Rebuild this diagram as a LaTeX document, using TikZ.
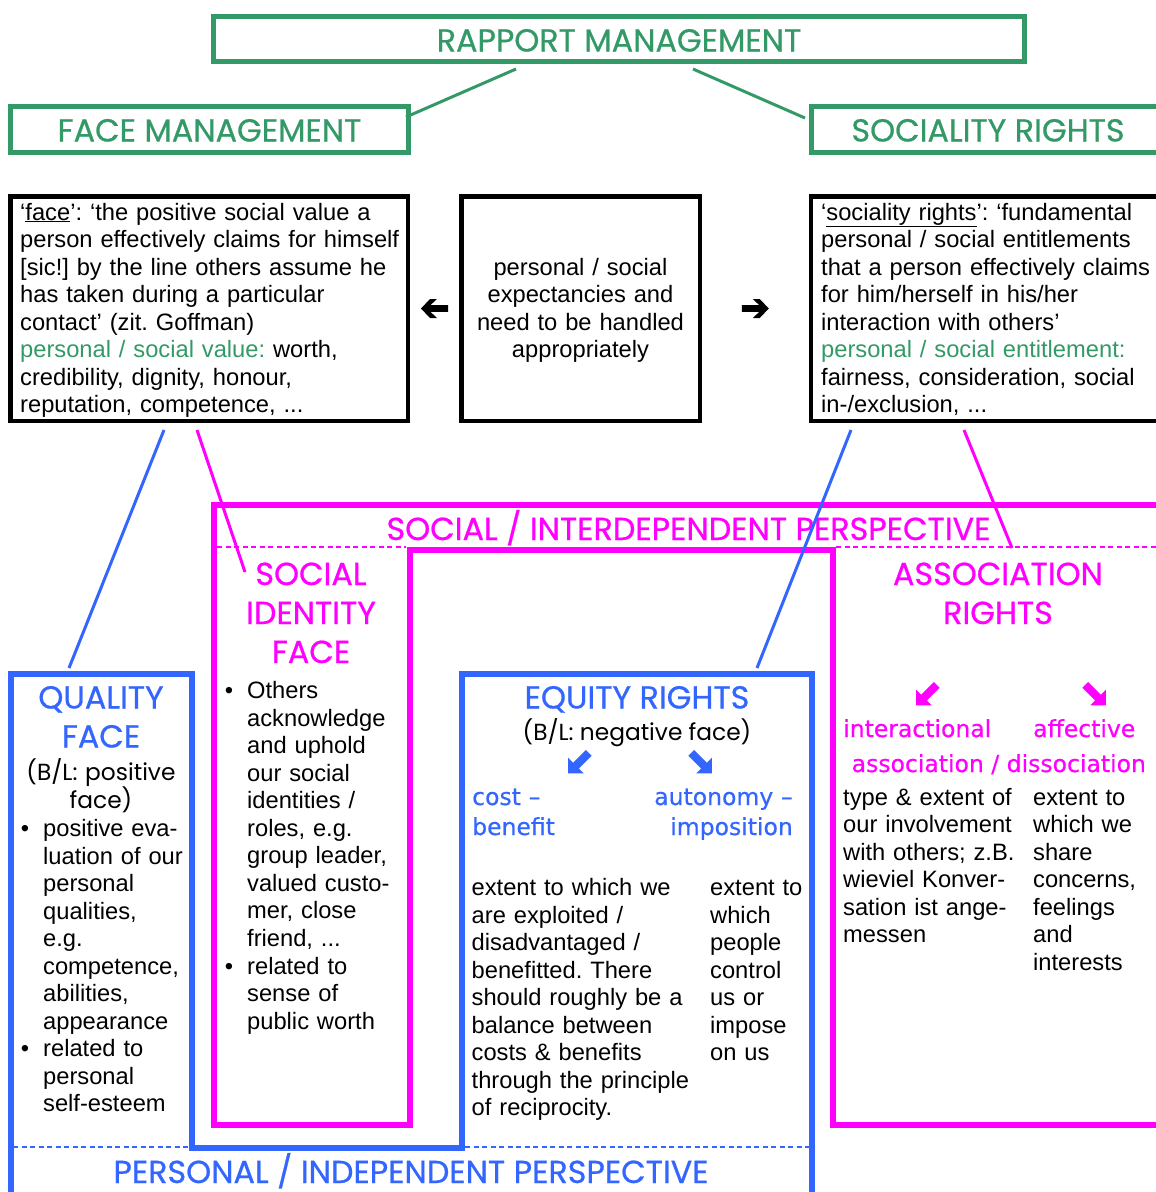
\documentclass[tikz,border=0pt]{standalone}
\usepackage{fontspec}
\setmainfont{Liberation Sans}
\newfontfamily\gothic{Poppins}[FakeBold=0.7]
\newfontfamily\gothiclight{Poppins}
\newfontfamily\verd{DejaVu Sans}[FakeBold=0.5]
\usetikzlibrary{calc}

\definecolor{rmgreen}{RGB}{51,153,102}
\definecolor{pmag}{RGB}{255,0,255}
\definecolor{pblue}{RGB}{51,102,255}

\newcommand\bodyfont{\fontsize{23.7}{27.5}\selectfont}
\newcommand\headfont{\gothic\fontsize{31.8}{39}\selectfont}
\newcommand\subfont{\gothiclight\fontsize{23.3}{28.5}\selectfont}
\newcommand\keyfont{\verd\fontsize{23.5}{30}\selectfont}

\tikzset{
  gbox/.style={draw=rmgreen, line width=5pt, inner sep=0pt},
  kbox/.style={draw=black, line width=4.5pt, inner sep=0pt},
  body/.style={font=\bodyfont, inner sep=0pt, align=left, text width=#1, anchor=base west},
  body/.default=420pt,
  ctext/.style={inner sep=0pt, align=center, text width=#1, anchor=base},
  ctext/.default=300pt,
  bul/.style={font=\bodyfont, inner sep=0pt, anchor=base},
  label/.style={inner sep=0pt, anchor=base},
  link/.style={line width=3pt},
  sepline/.style={line width=2pt, dash pattern=on 5pt off 3.5pt},
  frameline/.style={line width=6pt, line join=miter},
  leftarrow/.pic={\fill (-13.5,0) -- (-4.5,-9.5) -- (2.5,-9.5) -- (-4,-3.4) -- (13.5,-3.4)
                      -- (13.5,3.4) -- (-4,3.4) -- (2.5,9.5) -- (-4.5,9.5) -- cycle;},
  swarrow/.pic={\fill[scale=1.08] (-11,10.5) -- (-11,-4) -- (-6.3,0.7) -- (5.5,-11.1) -- (10.8,-5.8)
                      -- (-1,6) -- (3.5,10.5) -- cycle;},
}

\begin{document}
\frenchspacing
\begin{tikzpicture}[x=1pt,y=-1pt]
\useasboundingbox (0,0) rectangle (1156,1192);
\clip (0,0) rectangle (1156,1192);

% ---------- top level: rapport management ----------
\node[gbox, minimum width=811pt, minimum height=45pt] (rm) at (619,39) {};
\node[gbox, minimum width=398pt, minimum height=46pt] (fm) at (209.5,129.5) {};
\node[gbox, minimum width=360pt, minimum height=46pt] (sr) at (991.5,129.5) {};
\node[label, font=\headfont, text=rmgreen] (rmt) at (619,51.5) {RAPPORT MANAGEMENT};
\node[label, font=\headfont, text=rmgreen] (fmt) at (209.5,141.5) {FACE MANAGEMENT};
\node[label, font=\headfont, text=rmgreen] (srt) at (988,141.5) {SOCIALITY RIGHTS};

\coordinate (rm-l) at (516,69);
\coordinate (rm-r) at (693,69);
\coordinate (fm-in) at (406,117);
\coordinate (sr-in) at (805,118);
\draw[rmgreen, link] (rm-l) -- (fm-in);
\draw[rmgreen, link] (rm-r) -- (sr-in);

% ---------- definitions ----------
\node[kbox, minimum width=397.5pt, minimum height=224.5pt] (lbox) at (209,308.5) {};
\node[kbox, minimum width=238.5pt, minimum height=224.5pt] (mbox) at (580.5,308.5) {};
\node[kbox, minimum width=360pt, minimum height=224.5pt] (rbox) at (990.75,308.5) {};

\node[body] (facedef) at (20,220) {%
‘\underline{face}’: ‘the positive social value a\\
person effectively claims for himself\\
{[}sic!{]} by the line others assume he\\
has taken during a particular\\
contact’ (zit. Goffman)\\
\textcolor{rmgreen}{personal / social value:} worth,\\
credibility, dignity, honour,\\
reputation, competence, ...};

\node[ctext=240pt, font=\bodyfont] (expect) at (580.5,275) {%
personal / social\\
expectancies and\\
need to be handled\\
appropriately};

\node[body] (srdef) at (821,220) {%
‘\underline{sociality rights}’: ‘fundamental\\
personal / social entitlements\\
that a person effectively claims\\
for him/herself in his/her\\
interaction with others’\\
\textcolor{rmgreen}{personal / social entitlement:}\\
fairness, consideration, social\\
in-/exclusion, ...};

\pic[color=black] at ($(lbox.east)!0.5!(mbox.west)$) {leftarrow};
\pic[color=black, xscale=-1] at ($(mbox.east)!0.5!(rbox.west)$) {leftarrow};

% ---------- social / interdependent perspective (magenta) ----------
\draw[pmag, frameline] (1170,505) -- (214,505) -- (214,1124.5) -- (409.5,1124.5)
  -- (409.5,550) -- (833,550) -- (833,1124.5) -- (1170,1124.5);
\draw[pmag, sepline] (217,547) -- (406,547);
\draw[pmag, sepline] (836,547) -- (1160,547);
\node[label, font=\headfont, text=pmag] (sip) at (688.5,540) {SOCIAL / INTERDEPENDENT PERSPECTIVE};

\node[ctext=190pt, font=\headfont, text=pmag] (sif) at (311,585) {SOCIAL\\IDENTITY\\FACE};
\node[bul] (sifb1) at (229,698.5) {•};
\node[body=170pt] (sif1) at (247,698.5) {%
Others\\acknowledge\\and uphold\\our social\\identities /\\roles, e.g.\\group leader,\\valued custo-\\mer, close\\friend, ...};
\node[bul] (sifb2) at (229,974) {•};
\node[body=170pt] (sif2) at (247,974) {related to\\sense of\\public worth};

\node[ctext=310pt, font=\headfont, text=pmag] (assoc) at (998,585) {ASSOCIATION\\RIGHTS};
\pic[color=pmag] at (928,694) {swarrow};
\pic[color=pmag, xscale=-1] at (1094,694) {swarrow};
\node[label, anchor=base west, font=\keyfont, text=pmag] (inter) at (843,737) {interactional};
\node[label, anchor=base west, font=\keyfont, text=pmag] (affect) at (1033,737) {affective};
\node[label, anchor=base west, font=\keyfont, text=pmag] (assdis) at (851.5,772) {association / dissociation};
\node[body=185pt] (interdef) at (843,805) {%
type \& extent of\\our involvement\\with others; z.B.\\wieviel Konver-\\sation ist ange-\\messen};
\node[body=120pt] (affdef) at (1033,805) {%
extent to\\which we\\share\\concerns,\\feelings\\and\\interests};

% ---------- personal / independent perspective (blue) ----------
\draw[pblue, frameline] (10.5,1200) -- (10.5,674) -- (192,674) -- (192,1148)
  -- (462,1148) -- (462,674) -- (812,674) -- (812,1200);
\draw[pblue, sepline] (13,1147) -- (189,1147);
\draw[pblue, sepline] (465,1147) -- (809,1147);
\node[label, font=\headfont, text=pblue] (pip) at (411,1183) {PERSONAL / INDEPENDENT PERSPECTIVE};

\node[ctext=175pt, font=\headfont, text=pblue] (qf) at (101,708.5) {QUALITY\\FACE};
\node[ctext=175pt, font=\subfont] (qfbl) at (101,780) {(B/L: positive\\face)};
\node[bul] (qfb1) at (25,836.5) {•};
\node[body=150pt] (qf1) at (43,836.5) {%
positive eva-\\luation of our\\personal\\qualities,\\e.g.\\competence,\\abilities,\\appearance};
\node[bul] (qfb2) at (25,1056.5) {•};
\node[body=150pt] (qf2) at (43,1056.5) {related to\\personal\\self-esteem};

\node[label, font=\headfont, text=pblue] (eq) at (637,708.5) {EQUITY RIGHTS};
\node[label, font=\subfont] (eqbl) at (637,740.5) {(B/L: negative face)};
\pic[color=pblue] at (580,762) {swarrow};
\pic[color=pblue, xscale=-1] at (700,762) {swarrow};
\node[inner sep=0pt, anchor=base west, font=\keyfont, text=pblue, align=left, text width=160pt] (cb) at (472,805) {cost –\\benefit};
\node[inner sep=0pt, anchor=base east, font=\keyfont, text=pblue, align=right, text width=160pt] (ai) at (793,805) {autonomy –\\imposition};
\node[body=235pt] (cbdef) at (471.5,895.5) {%
extent to which we\\are exploited /\\disadvantaged /\\benefitted. There\\should roughly be a\\balance between\\costs \& benefits\\through the principle\\of reciprocity.};
\node[body=100pt] (aidef) at (710,895.5) {%
extent to\\which\\people\\control\\us or\\impose\\on us};

% ---------- links from the definitions to the face / rights types ----------
\coordinate (lbox-a) at (164,430);
\coordinate (lbox-b) at (197,430);
\coordinate (rbox-a) at (851,430);
\coordinate (rbox-b) at (964,430);
\coordinate (qf-top) at (69,668);
\coordinate (sif-top) at (245,572);
\coordinate (eq-top) at (757,668);
\coordinate (assoc-top) at (1012,548);
\draw[pblue, link] (lbox-a) -- (qf-top);
\draw[pmag, link] (lbox-b) -- (sif-top);
\draw[pblue, link] (rbox-a) -- (eq-top);
\draw[pmag, link] (rbox-b) -- (assoc-top);
\end{tikzpicture}
\end{document}
